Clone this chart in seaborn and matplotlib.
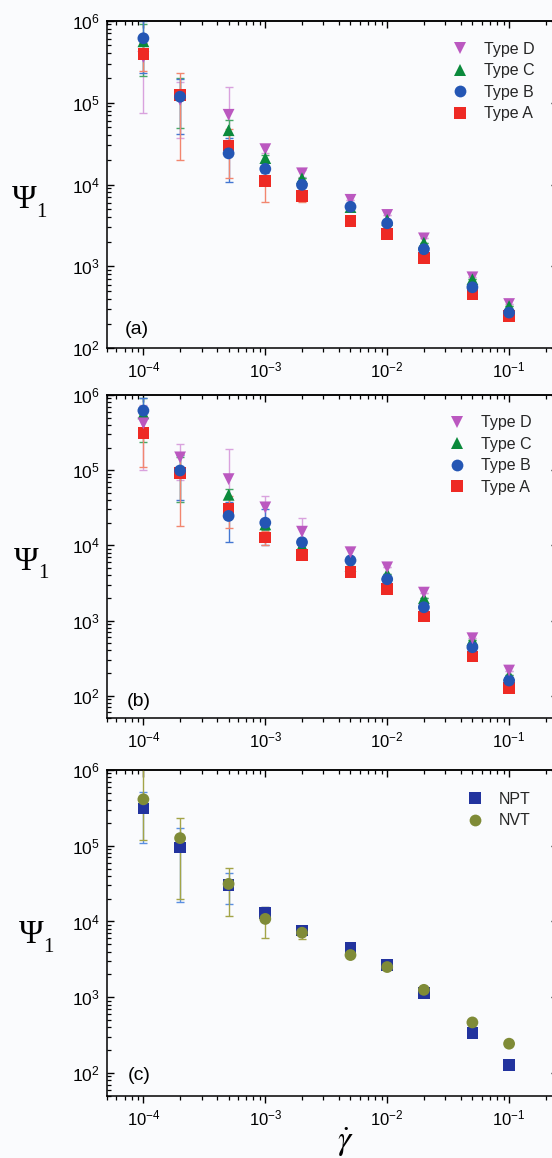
import numpy as np
import pandas as pd
import matplotlib
matplotlib.use("Agg")
import matplotlib.pyplot as plt
import seaborn as sns
from matplotlib.ticker import LogLocator, NullFormatter

sns.set_theme(style="ticks")
plt.rcParams["font.family"] = ["Liberation Sans", "DejaVu Sans"]
plt.rcParams["mathtext.fontset"] = "stix"

# shear rates
rates = [1e-4, 2e-4, 5e-4, 1e-3, 2e-3, 5e-3, 1e-2, 2e-2, 5e-2, 1e-1]

# panel (a): first normal stress coefficient
a_D = [3.6e5, 1.08e5, 7.1e4, 2.7e4, 1.37e4, 6.5e3, 4.25e3, 2.2e3, 736, 347]
a_C = [5.6e5, 1.24e5, 4.6e4, 2.1e4, 1.19e4, 5.3e3, 3.7e3, 1.95e3, 697, 328]
a_B = [6.1e5, 1.18e5, 2.4e4, 1.55e4, 9.9e3, 5.35e3, 3.36e3, 1.62e3, 556, 273]
a_A = [3.9e5, 1.25e5, 3.0e4, 1.1e4, 7.2e3, 3.6e3, 2.5e3, 1.26e3, 460, 248]
a_D_lo = [2.85e5, 7.1e4, 4.5e4, 3e3, 1.5e3, 0, 0, 0, 0, 0]
a_D_hi = [2.85e5, 7.1e4, 8.3e4, 3e3, 1.5e3, 0, 0, 0, 0, 0]
a_C_err = [3.5e5, 7.5e4, 1.5e4, 2e3, 0, 0, 0, 0, 0, 0]
a_B_err = [3.8e5, 7.7e4, 1.32e4, 1.5e3, 0, 0, 0, 0, 0, 0]
a_A_err = [1.5e5, 1.05e5, 1.8e4, 4.9e3, 1e3, 0, 0, 0, 0, 0]

# panel (b)
b_D = [4.2e5, 1.48e5, 7.6e4, 3.2e4, 1.52e4, 8.1e3, 5.1e3, 2.35e3, 581, 216]
b_C = [5.7e5, 9.3e4, 4.7e4, 1.9e4, 1.0e4, 5.3e3, 4.2e3, 1.98e3, 552, 189]
b_B = [6.2e5, 9.9e4, 2.46e4, 2.0e4, 1.1e4, 6.3e3, 3.54e3, 1.5e3, 441, 159]
b_A = [3.1e5, 9.1e4, 3.1e4, 1.27e4, 7.5e3, 4.4e3, 2.63e3, 1.13e3, 331, 126]
b_D_lo = [3.2e5, 7.5e4, 5.1e4, 1.3e4, 8e3, 1e3, 0, 0, 0, 0]
b_D_hi = [3.2e5, 7.5e4, 1.14e5, 1.3e4, 8e3, 1e3, 0, 0, 0, 0]
b_C_err = [3.3e5, 5.5e4, 1e4, 3e3, 0, 0, 0, 0, 0, 0]
b_B_err = [2.8e5, 5.9e4, 1.34e4, 1e4, 0, 0, 0, 0, 0, 0]
b_A_err = [2.0e5, 7.3e4, 1.4e4, 2.7e3, 0, 0, 0, 0, 0, 0]

# panel (c): NPT vs NVT ensembles
c_NPT = [3.1e5, 9.5e4, 3.04e4, 1.29e4, 7.6e3, 4.5e3, 2.67e3, 1.13e3, 336, 126]
c_NVT = [4.1e5, 1.26e5, 3.13e4, 1.08e4, 7.1e3, 3.6e3, 2.5e3, 1.25e3, 464, 243]
c_NPT_err = [2.0e5, 7.7e4, 1.36e4, 2.5e3, 600, 0, 0, 0, 0, 0]
c_NVT_lo = [2.9e5, 1.06e5, 1.95e4, 4.8e3, 1.2e3, 0, 0, 0, 0, 0]
c_NVT_hi = [7e5, 1.06e5, 1.95e4, 4.8e3, 1.2e3, 0, 0, 0, 0, 0]

type_labels = ["Type D", "Type C", "Type B", "Type A"]
ens_labels = ["NPT", "NVT"]

colors = {"Type D": "#bb58c0", "Type C": "#0b8a3c", "Type B": "#2456b4",
          "Type A": "#ee2a24", "NPT": "#22339e", "NVT": "#7f8b37"}
err_colors = {"Type D": "#d9a2de", "Type C": "#47a866", "Type B": "#4477d2",
              "Type A": "#f2866f", "NPT": "#5a8fe2", "NVT": "#a3a447"}
markers = {"Type D": "v", "Type C": "^", "Type B": "o", "Type A": "s",
           "NPT": "s", "NVT": "o"}

W, H = 552, 1158
bg = "#fafbfd"
fig = plt.figure(figsize=(W / 100, H / 100), dpi=100, facecolor=bg)

left_px, width_px = 106.7, 450.9
panels = [(20.7, 348.3), (395.0, 718.3), (770.0, 1095.7)]


def make_axes(top, bottom):
    ax = fig.add_axes([left_px / W, 1 - bottom / H, width_px / W, (bottom - top) / H])
    ax.set_facecolor(bg)
    return ax


def style_axes(ax, ylow):
    ax.set_xscale("log")
    ax.set_yscale("log")
    ax.set_xlim(5e-5, 0.25)
    ax.set_ylim(ylow, 1e6)
    for a in (ax.xaxis, ax.yaxis):
        a.set_major_locator(LogLocator(base=10, numticks=20))
        a.set_minor_locator(LogLocator(base=10, subs=np.arange(2, 10), numticks=100))
        a.set_minor_formatter(NullFormatter())
    for s in ax.spines.values():
        s.set_linewidth(1.1)
        s.set_color("black")
        s.set_visible(True)
    ax.tick_params(axis="y", which="both", direction="in", left=True, right=True,
                   labelsize=12.5, pad=5, colors="black")
    ax.tick_params(axis="x", which="both", direction="out", bottom=True, top=False,
                   labelsize=12, pad=4, colors="black")
    ax.tick_params(which="major", length=5, width=1)
    ax.tick_params(which="minor", length=3, width=0.9)
    top_ax = ax.secondary_xaxis("top")
    top_ax.xaxis.set_major_locator(LogLocator(base=10, numticks=20))
    top_ax.xaxis.set_minor_locator(LogLocator(base=10, subs=np.arange(2, 10), numticks=100))
    top_ax.tick_params(which="both", direction="in", labeltop=False, colors="black")
    top_ax.tick_params(which="major", length=5, width=1)
    top_ax.tick_params(which="minor", length=3, width=0.9)
    ax.set_xlabel("")
    ax.set_ylabel("")


def draw_panel(ax, names, values, err_lo, err_hi, draw_order, legend_xy, tag, ylow):
    for name, v, lo, hi in zip(names, values, err_lo, err_hi):
        ax.errorbar(rates, v, yerr=[lo, hi], fmt="none", ecolor=err_colors[name],
                    elinewidth=1.0, capsize=3, capthick=1.0, zorder=2)
    frames = []
    for name in draw_order:
        v = values[names.index(name)]
        frames.append(pd.DataFrame({"rate": rates, "psi": v, "series": name}))
    df = pd.concat(frames, ignore_index=True)
    sns.scatterplot(data=df, x="rate", y="psi", hue="series", style="series",
                    hue_order=names, style_order=names, palette=colors,
                    markers=markers, s=72, linewidth=0, alpha=1.0, ax=ax,
                    zorder=3, legend="full")
    style_axes(ax, ylow)
    handles, labels = ax.get_legend_handles_labels()
    pairs = [(h, l) for h, l in zip(handles, labels) if l in names]
    ax.legend([p[0] for p in pairs], [p[1] for p in pairs], loc="upper left",
              bbox_to_anchor=legend_xy, frameon=False, fontsize=11.5,
              handlelength=1.0, handletextpad=1.0, labelspacing=0.4,
              borderpad=0, borderaxespad=0, markerscale=1.0)
    ax.text(tag[1], tag[2], tag[0], transform=ax.transAxes, fontsize=14,
            ha="center", va="center", color="black")


ax_a = make_axes(*panels[0])
draw_panel(ax_a, type_labels, [a_D, a_C, a_B, a_A],
           [a_D_lo, a_C_err, a_B_err, a_A_err], [a_D_hi, a_C_err, a_B_err, a_A_err],
           ["Type D", "Type C", "Type A", "Type B"], (0.765, 0.935),
           ("(a)", 0.067, 0.058), 1e2)

ax_b = make_axes(*panels[1])
draw_panel(ax_b, type_labels, [b_D, b_C, b_B, b_A],
           [b_D_lo, b_C_err, b_B_err, b_A_err], [b_D_hi, b_C_err, b_B_err, b_A_err],
           ["Type C", "Type A", "Type B", "Type D"], (0.759, 0.937),
           ("(b)", 0.072, 0.053), 50)

ax_c = make_axes(*panels[2])
draw_panel(ax_c, ens_labels, [c_NPT, c_NVT],
           [c_NPT_err, c_NVT_lo], [c_NPT_err, c_NVT_hi],
           ["NPT", "NVT"], (0.798, 0.933),
           ("(c)", 0.072, 0.062), 50)

# y-axis labels: Psi with subscript 1
for (px, py) in [(24, 200), (26, 562), (31, 935)]:
    fig.text(px / W, 1 - py / H, "Ψ", fontfamily="Liberation Serif", fontsize=24,
             ha="center", va="center", color="black")
    fig.text((px + 17) / W, 1 - (py + 12) / H, "1", fontfamily="Liberation Serif",
             fontsize=15, ha="center", va="center", color="black")

# x-axis label: shear rate
fig.text(345 / W, 1 - 1142 / H, r"$\dot{\gamma}$", fontsize=24,
         ha="center", va="center", color="black")

fig.savefig("out.png", dpi=100, facecolor=bg)
